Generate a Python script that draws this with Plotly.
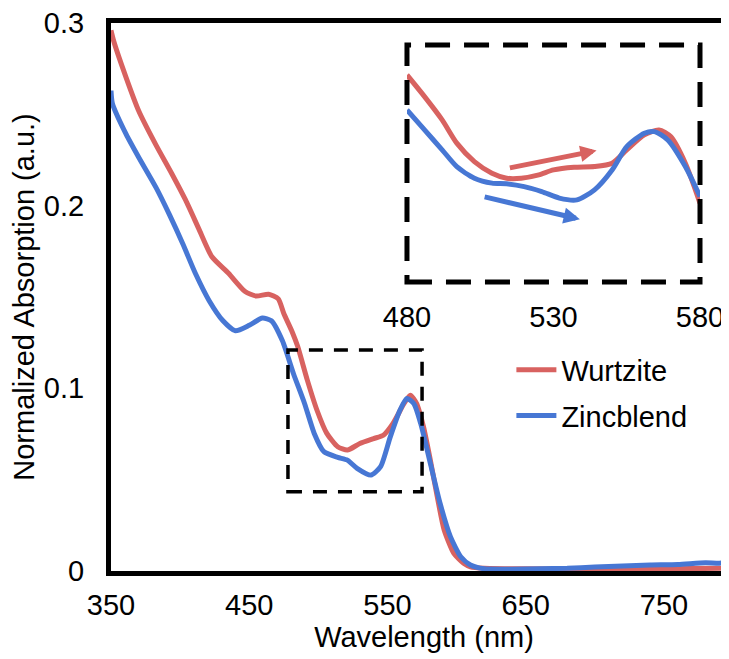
import plotly.graph_objects as go

# ---------------- data ----------------
wl_red = [350, 352, 361, 370, 382, 394, 404, 414, 423, 435, 447, 455, 464, 471, 475, 481, 485,
          492, 499, 506, 514, 521, 530, 540, 547, 554, 562, 566.5, 571, 576, 581, 586, 591,
          598, 605, 610, 620, 650, 700, 750, 800]
abs_red = [0.296, 0.290, 0.270, 0.252, 0.234, 0.2175, 0.203, 0.1865, 0.172, 0.163, 0.153,
           0.1505, 0.1515, 0.149, 0.141, 0.131, 0.123, 0.1045, 0.088, 0.0755, 0.068, 0.0662,
           0.0698, 0.0725, 0.0743, 0.0808, 0.0917, 0.0962, 0.0917, 0.079, 0.0607, 0.0406,
           0.0224, 0.0096, 0.0042, 0.0023, 0.0015, 0.0012, 0.0010, 0.0012, 0.0015]

wl_blue = [350, 351, 361, 370, 382.5, 392, 402, 411, 421, 431, 440, 450, 459.5, 466, 474, 482,
           490, 497, 504, 514, 521, 528, 538, 545, 552, 559, 564, 569, 574, 581, 588, 595.5,
           603, 610, 620, 640, 660, 680, 700, 720, 740, 760, 780, 790, 800]
abs_blue = [0.263, 0.256, 0.239, 0.2265, 0.210, 0.1955, 0.179, 0.163, 0.148, 0.137, 0.1315,
            0.1345, 0.1385, 0.137, 0.126, 0.108, 0.0917, 0.0753, 0.0653, 0.0622, 0.0607,
            0.0562, 0.0525, 0.0571, 0.0734, 0.088, 0.0944, 0.0917, 0.0808, 0.0589, 0.0371,
            0.0188, 0.0078, 0.0033, 0.0012, 0.0010, 0.0012, 0.0015, 0.0022, 0.0028, 0.0033,
            0.0036, 0.0045, 0.0043, 0.0050]

inset_wl_red = [480, 486, 492, 497, 503, 509, 514, 519, 525, 530, 537, 544, 550, 555, 561,
                566, 570, 575, 580]
inset_abs_red = [0.1270, 0.1147, 0.1015, 0.0883, 0.0778, 0.0712, 0.0684, 0.0684, 0.0703,
                 0.0731, 0.0746, 0.0750, 0.0769, 0.0845, 0.0930, 0.0958, 0.0920, 0.0769, 0.0542]
inset_wl_blue = [480, 486, 492, 497, 503, 509, 514, 520, 526, 532, 538, 544, 550, 555, 561,
                 564.5, 569, 575, 580]
inset_abs_blue = [0.1071, 0.0958, 0.0845, 0.0750, 0.0684, 0.0656, 0.0652, 0.0636, 0.0608,
                  0.0571, 0.0561, 0.0618, 0.0731, 0.0863, 0.0939, 0.0948, 0.0901, 0.0750, 0.0580]

series_names = ["Wurtzite", "Zincblend"]
x_ticks = [350, 450, 550, 650, 750]
y_ticks = [0, 0.1, 0.2, 0.3]
y_ticktext = ["0", "0.1", "0.2", "0.3"]
inset_ticks = [480, 530, 580]

RED = "rgb(216,98,96)"
BLUE = "rgb(71,119,212)"
FONT = "Liberation Sans, Arial, sans-serif"

fig = go.Figure()
fig.add_trace(go.Scatter(x=wl_red, y=abs_red, mode="lines", name=series_names[0],
                         legendgroup="a",
                         line=dict(color=RED, width=5, shape="spline", smoothing=0.6)))
fig.add_trace(go.Scatter(x=wl_blue, y=abs_blue, mode="lines", name=series_names[1],
                         legendgroup="b",
                         line=dict(color=BLUE, width=5, shape="spline", smoothing=0.6)))
fig.add_trace(go.Scatter(x=inset_wl_red, y=inset_abs_red, mode="lines", showlegend=False,
                         xaxis="x2", yaxis="y2",
                         line=dict(color=RED, width=5, shape="spline", smoothing=0.7)))
fig.add_trace(go.Scatter(x=inset_wl_blue, y=inset_abs_blue, mode="lines", showlegend=False,
                         xaxis="x2", yaxis="y2",
                         line=dict(color=BLUE, width=5, shape="spline", smoothing=0.7)))

# zoom box on the main plot
fig.add_shape(type="rect", xref="x", yref="y", x0=478, x1=575, y0=0.0434, y1=0.121,
              line=dict(color="black", width=3.5, dash="14px,11px"))
# inset frame
fig.add_shape(type="rect", xref="x2 domain", yref="y2 domain", x0=0, x1=1, y0=0, y1=1,
              line=dict(color="black", width=5, dash="25px,14px"))

# arrows in the inset
fig.add_annotation(xref="x2", yref="y2", axref="x2", ayref="y2",
                   x=544.7, y=0.0841, ax=514.6, ay=0.0741, text="", showarrow=True,
                   arrowhead=2, arrowsize=0.65, arrowwidth=5, arrowcolor=RED)
fig.add_annotation(xref="x2", yref="y2", axref="x2", ayref="y2",
                   x=539.0, y=0.0451, ax=506.0, ay=0.0580, text="", showarrow=True,
                   arrowhead=2, arrowsize=0.65, arrowwidth=5, arrowcolor=BLUE)

# the page body adds an 8px offset, margins below compensate for it
fig.update_layout(
    template="none",
    width=729, height=659,
    margin=dict(l=103, r=0, t=15, b=96, autoexpand=False),
    paper_bgcolor="white", plot_bgcolor="white",
    font=dict(family=FONT, color="black", size=29),
    showlegend=True,
    legend=dict(x=0.6396, y=0.4135, xanchor="left", yanchor="top",
                bgcolor="rgba(0,0,0,0)", font=dict(size=29),
                traceorder="grouped", tracegroupgap=5, itemwidth=40),
    xaxis=dict(range=[350, 802.8], tickvals=x_ticks, showline=True, linewidth=5,
               linecolor="black", mirror=True, showgrid=False, zeroline=False,
               ticks="", ticklabelstandoff=4, tickfont=dict(size=29), automargin=False,
               ticklabeloverflow="allow",
               title=dict(text="Wavelength (nm)", font=dict(size=29), standoff=0),
               layer="below traces"),
    yaxis=dict(range=[0, 0.3], tickvals=y_ticks, ticktext=y_ticktext, showline=True,
               linewidth=5, linecolor="black", mirror=False, showgrid=False, zeroline=False,
               ticks="", ticklabelstandoff=16, tickfont=dict(size=29), automargin=False,
               ticklabeloverflow="allow",
               title=dict(text="Normalized Absorption (a.u.)", font=dict(size=29), standoff=7),
               layer="below traces"),
    xaxis2=dict(domain=[0.4728, 0.9409], anchor="y2", range=[480, 580], tickvals=inset_ticks,
                showline=False, showgrid=False, zeroline=False, ticks="", automargin=False,
                ticklabeloverflow="allow",
                ticklabelstandoff=15, tickfont=dict(size=29)),
    yaxis2=dict(domain=[0.5274, 0.9599], anchor="x2", range=[0.0095, 0.144], visible=False,
                showgrid=False, zeroline=False, automargin=False),
)

fig.write_html("out.html")
